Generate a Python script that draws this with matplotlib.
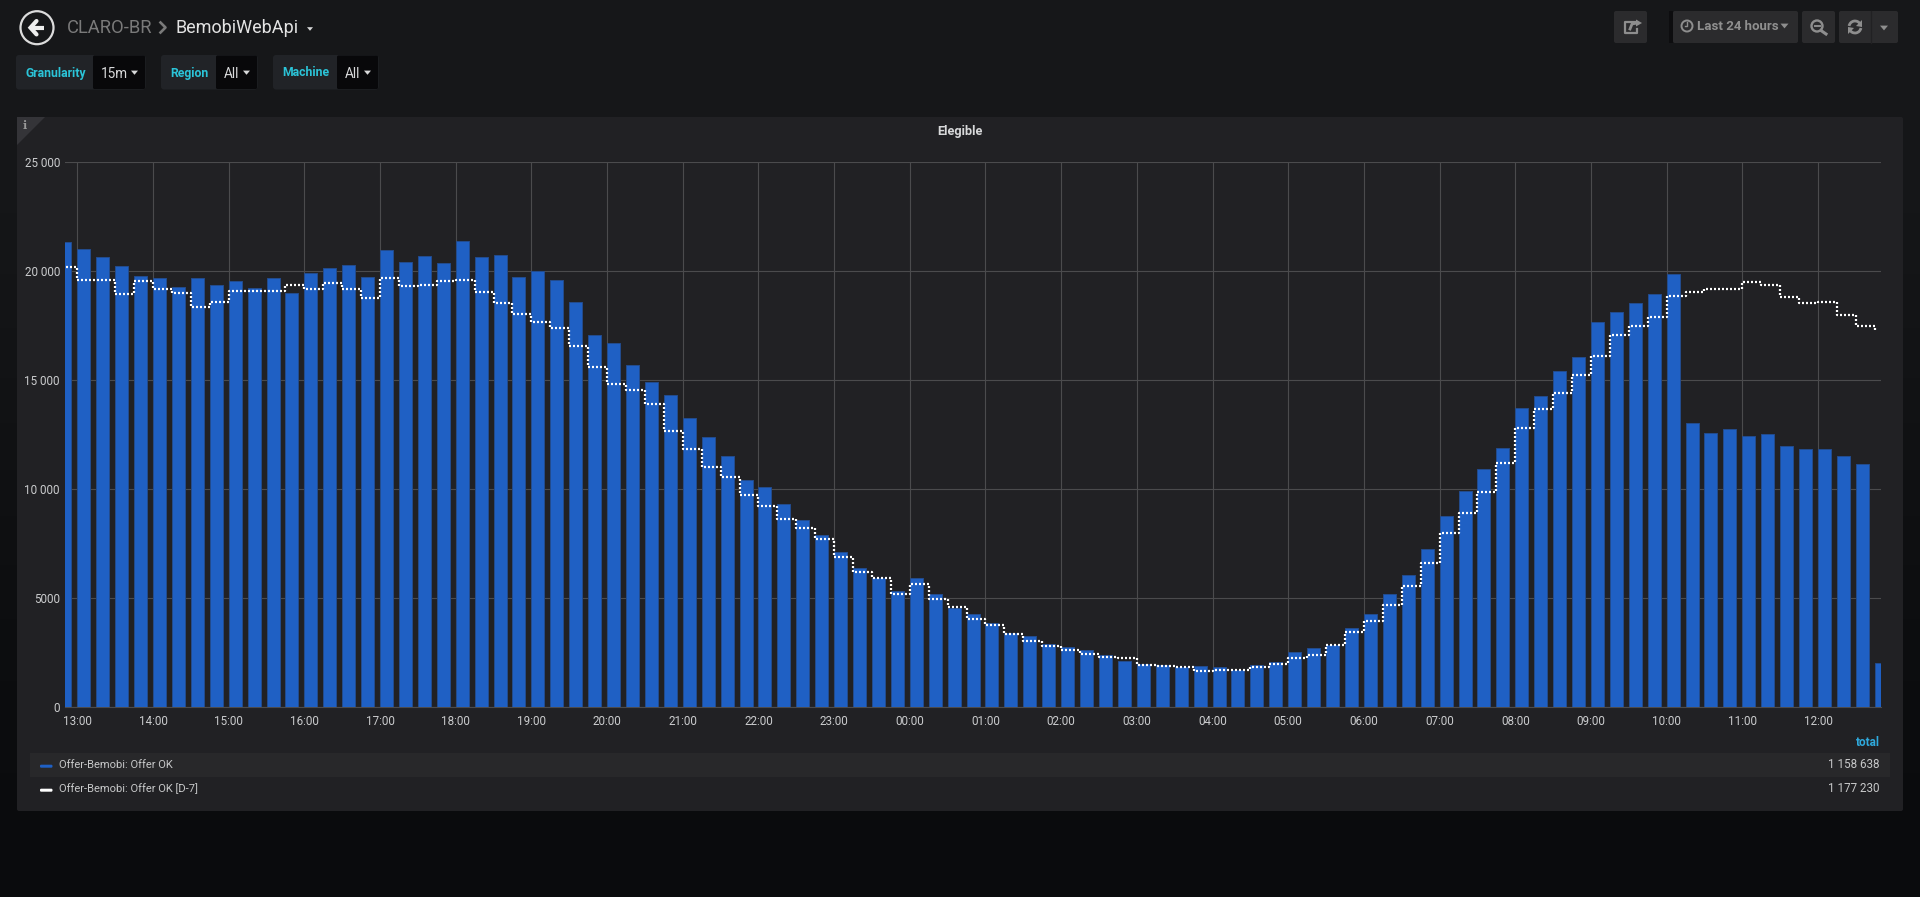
import numpy as np
import pandas as pd
import matplotlib
matplotlib.use("Agg")
import matplotlib.pyplot as plt
import matplotlib.dates as mdates
from matplotlib.patches import FancyBboxPatch, Rectangle, Polygon, Circle, Arc
from matplotlib.ticker import FixedLocator, FuncFormatter

plt.rcParams['font.family'] = ['Roboto', 'DejaVu Sans']

# Data, one value per 15 minutes from 12:45
offer_ok = [21345, 21009, 20642, 20245, 19801, 19694, 19281, 19694, 19388, 19557,
            19220, 19679, 19006, 19939, 20168, 20275, 19740, 20994, 20413, 20688,
            20367, 21407, 20642, 20749, 19755, 20000, 19587, 18609, 17064, 16713,
            15703, 14908, 14343, 13272, 12386, 11544, 10428, 10092, 9327, 8593,
            7890, 7125, 6391, 5948, 5336, 5933, 5183, 4541, 4266, 3853,
            3410, 3272, 2905, 2752, 2630, 2385, 2110, 1973, 1927, 1835,
            1881, 1835, 1728, 1942, 2064, 2523, 2706, 2875, 3624, 4281,
            5199, 6055, 7263, 8761, 9924, 10950, 11896, 13731, 14282, 15428,
            16070, 17661, 18150, 18547, 18960, 19878, 13028, 12584, 12768, 12462,
            12538, 11973, 11835, 11850, 11529, 11178, 2048]

offer_ok_d7 = [20214, 19587, 19587, 18945, 19557, 19205, 19021, 18349, 18609, 19083,
               19098, 19098, 19358, 19205, 19450, 19174, 18777, 19709, 19343, 19388,
               19541, 19587, 19037, 18563, 18058, 17661, 17401, 16560, 15596, 14817,
               14541, 13899, 12691, 11850, 11040, 10581, 9740, 9251, 8655, 8241,
               7722, 6896, 6223, 5917, 5199, 5657, 4954, 4587, 4067, 3777,
               3364, 3043, 2829, 2615, 2447, 2294, 2248, 1957, 1896, 1835,
               1682, 1713, 1728, 1850, 1988, 2278, 2416, 2875, 3440, 3976,
               4694, 5550, 6620, 7997, 8930, 9862, 11224, 12814, 13685, 14434,
               15245, 16116, 17095, 17477, 17905, 18869, 19052, 19174, 19174, 19526,
               19358, 18823, 18532, 18593, 17982, 17492, 17294]

y_ticks = [0, 5000, 10000, 15000, 20000, 25000]
legend_names = ["Offer-Bemobi: Offer OK", "Offer-Bemobi: Offer OK [D-7]"]
legend_totals = ["1 158 638", "1 177 230"]
variables = [("Granularity", "15m"), ("Region", "All"), ("Machine", "All")]

W, H = 1920, 897
BLUE = "#1f60c4"
CYAN = "#2bc4d8"
TEXT = "#d8d9da"
GREY = "#8e8e8e"

fig = plt.figure(figsize=(W / 100, H / 100), dpi=100)

# Page chrome is drawn in pixel coordinates on a full figure axes
bg = fig.add_axes([0, 0, 1, 1])
bg.imshow([[0.0], [1.0]], extent=(0, W, H, 0), aspect='auto', interpolation='bicubic',
          cmap=matplotlib.colors.LinearSegmentedColormap.from_list("page", ["#17181a", "#0a0b0d"]))
bg.set_xlim(0, W)
bg.set_ylim(H, 0)
bg.axis('off')


def box(x0, y0, x1, y1, color, radius=2):
    bg.add_patch(FancyBboxPatch((x0, y0), x1 - x0, y1 - y0, boxstyle=f"round,pad=0,rounding_size={radius}",
                                fc=color, ec='none'))


def caret(x, y, color, size=4):
    bg.add_patch(Polygon([(x - size, y - size * 0.6), (x + size, y - size * 0.6), (x, y + size * 0.6)],
                         fc=color, ec='none'))


# Back button and breadcrumb
bg.add_patch(Circle((37, 27.7), 16.5, fc='none', ec="#dcdcdc", lw=1.6))
bg.plot([31, 44], [27.7, 27.7], color="#eeeeee", lw=3, solid_capstyle='butt')
bg.plot([36.5, 30.5, 36.5], [21, 27.7, 34.4], color="#eeeeee", lw=3, solid_capstyle='round', solid_joinstyle='miter')
bg.text(67, 28, "CLARO-BR", fontsize=13.2, color="#7a7a7a", va='center')
bg.plot([160.5, 165.5, 160.5], [22.5, 27.5, 32.5], color="#7a7a7a", lw=1.9)
bg.text(175.5, 28, "BemobiWebApi", fontsize=13, color="#e3e3e3", va='center')
caret(310, 29, TEXT, 3)

# Template variables
pills = [(16, 93, 145.5), (161, 216, 257.5), (273, 337, 378.5)]
for (name, value), (x0, x1, x2) in zip(variables, pills):
    box(x0, 55, x2, 89.5, "#212327", 3)
    bg.add_patch(FancyBboxPatch((x1, 55.5), x2 - x1 - 0.5, 33.5, boxstyle="round,pad=0,rounding_size=1.5",
                                fc="#08080a", ec='none'))
    bg.text(x0 + 9, 73, name, fontsize=8.8, weight='bold', color=CYAN, va='center')
    bg.text(x1 + 8, 73.5, value, fontsize=9.8, color=TEXT, va='center')
    caret(x2 - 11, 72.7, TEXT, 3.5)

# Top right toolbar
for x0, x1 in [(1614, 1647), (1673, 1798), (1802, 1835), (1839, 1898)]:
    box(x0, 11, x1, 43, "#2b2b2d", 2)
bg.add_patch(Rectangle((1669, 11), 4, 32, fc="#0d0d0f", ec='none'))
bg.plot([1871, 1871], [11, 43], color="#212123", lw=1)
# share icon
bg.plot([1637, 1625, 1625, 1637, 1637], [22, 22, 33, 33, 29], color=GREY, lw=1.6)
bg.plot([1630, 1632, 1637], [29, 24, 23], color=GREY, lw=2)
bg.add_patch(Polygon([(1636, 19.5), (1642, 23), (1636, 26.5)], fc=GREY, ec='none'))
# clock
bg.add_patch(Circle((1687, 26), 5.5, fc='none', ec=GREY, lw=1.4))
bg.plot([1687, 1687, 1684.5], [22.5, 26.5, 26.5], color=GREY, lw=1)
bg.text(1697, 27, "Last 24 hours", fontsize=9.5, weight='bold', color="#8f8f8f", va='center')
caret(1784.5, 26, GREY, 4)
# zoom out
bg.add_patch(Circle((1817, 26), 5.5, fc='none', ec=GREY, lw=1.7))
bg.plot([1814.5, 1819.5], [26, 26], color=GREY, lw=1.4)
bg.plot([1821, 1826], [30.5, 34], color=GREY, lw=2.2)
# refresh
bg.add_patch(Arc((1855, 27), 12, 12, theta1=190, theta2=330, color=GREY, lw=2))
bg.add_patch(Arc((1855, 27), 12, 12, theta1=10, theta2=150, color=GREY, lw=2))
bg.add_patch(Polygon([(1862, 20), (1862, 27), (1856, 26)], fc=GREY, ec='none'))
bg.add_patch(Polygon([(1848, 34), (1848, 27), (1854, 28)], fc=GREY, ec='none'))
caret(1884, 28, GREY, 4)

# Panel
box(17, 117, 1903, 811, "#212124", 2)
bg.add_patch(Polygon([(17, 117), (45, 117), (17, 145)], fc="#343438", ec='none'))
bg.text(25, 125.5, "i", fontsize=8, family='DejaVu Serif', weight='bold', color="#9a9a9a", ha='center', va='center')
bg.text(960, 131, "Elegible", fontsize=9.2, weight='bold', color=TEXT, ha='center', va='center')

# Legend
bg.add_patch(Rectangle((30, 753.3), 1860, 23.7, fc="#28282a", ec='none'))
bg.text(1880, 742.5, "total", fontsize=8.5, weight='bold', color="#2fa9dc", ha='right', va='center')
for i, (name, total, color) in enumerate(zip(legend_names, legend_totals, [BLUE, "white"])):
    y = 764.5 + i * 24
    box(40, y + 0.2, 52.5, y + 3.2, color, 1.2)
    bg.text(59, y, name, fontsize=8.05, color="#c8c9ca", va='center')
    bg.text(1880, y, total, fontsize=8.4, color="#c8c9ca", ha='right', va='center')

# Graph, time scale: 15 minute buckets with 13:00 at pixel 77.3, 18.92 px per bucket
times = pd.date_range("2018-05-14 12:45", periods=len(offer_ok), freq="15min")
x = mdates.date2num(times)
step = x[1] - x[0]
bar_width = step * 13 / 18.92

ax = fig.add_axes([65 / W, 1 - 707.3 / H, (1881 - 65) / W, 545 / H])
ax.patch.set_alpha(0)
ax.bar(x, offer_ok, width=bar_width, align='edge', color=BLUE, edgecolor="#234c8e", linewidth=0.7, zorder=3)
ax.step(x, offer_ok_d7, where='post', color='white', lw=1.6, linestyle=(0, (0.9, 0.9)),
        dash_capstyle='butt', zorder=4)

ax.set_xlim(x[1] - 0.65 * step, x[1] + 95.33 * step)
ax.set_ylim(0, 25000)
ax.xaxis.set_major_locator(mdates.HourLocator())
ax.xaxis.set_major_formatter(mdates.DateFormatter('%H:%M'))
ax.yaxis.set_major_locator(FixedLocator(y_ticks))
# grafana only puts a thin space in five digit numbers
ax.yaxis.set_major_formatter(FuncFormatter(lambda v, pos: f"{int(v):,}".replace(",", " ") if v >= 10000 else f"{int(v)}"))
ax.grid(True, color="#4b4b4d", lw=0.8, zorder=1)
ax.set_axisbelow(True)
ax.tick_params(axis='both', length=0, labelsize=8.35, labelcolor="#cbccce")
ax.tick_params(axis='x', pad=5.5)
ax.tick_params(axis='y', pad=3.6)
for side in ['top', 'right', 'left']:
    ax.spines[side].set_visible(False)
ax.spines['bottom'].set_color("#4b4b4d")
ax.spines['bottom'].set_linewidth(0.8)

fig.savefig("out.png", dpi=100)
